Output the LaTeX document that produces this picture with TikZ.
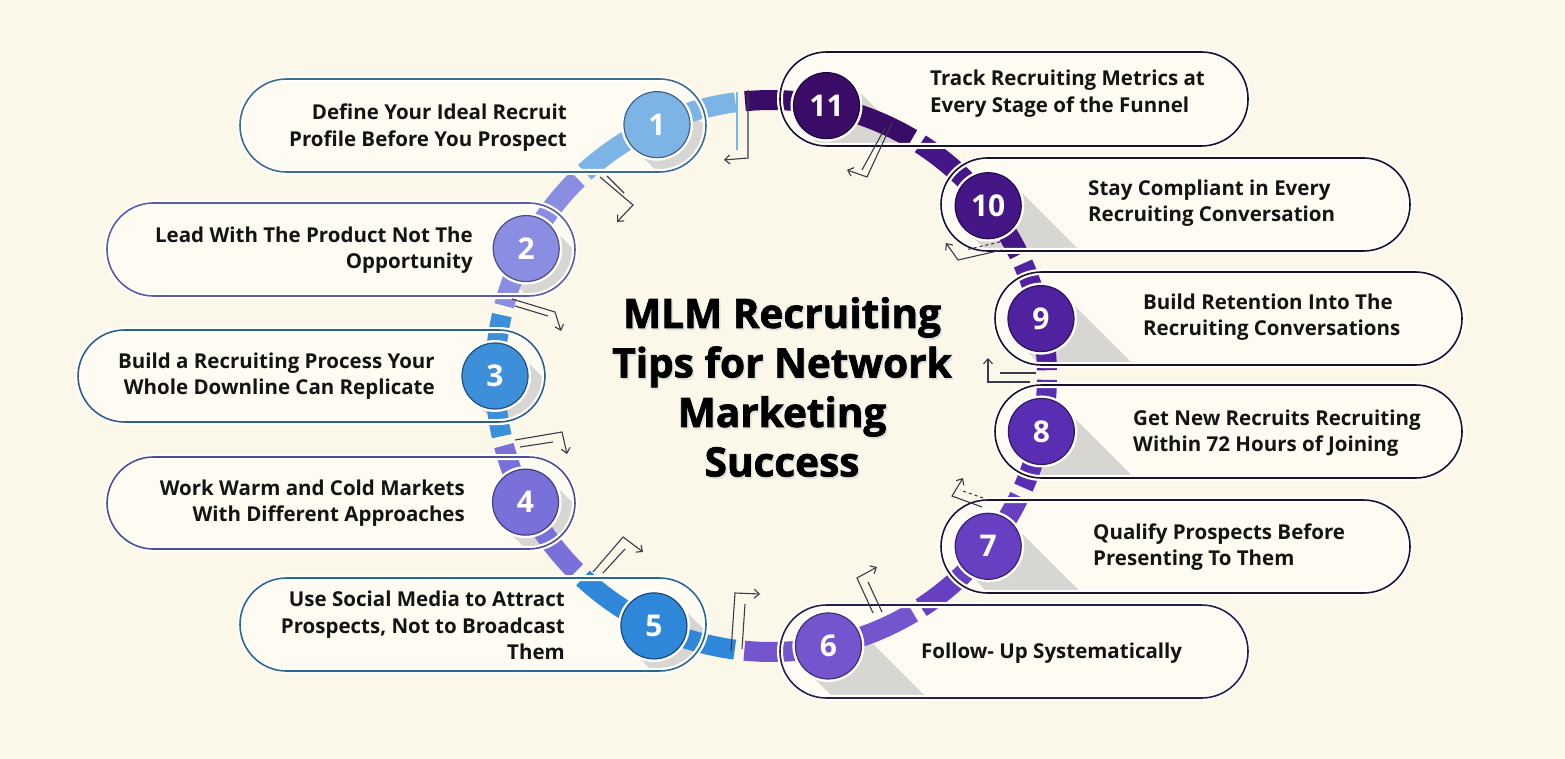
\documentclass[tikz,border=0pt]{standalone}
\usepackage{fontspec}
\setmainfont{Open Sans}
\newfontfamily\titlefont{Open Sans}[FakeBold=1.8]
\usetikzlibrary{calc,arrows.meta}
\definecolor{bgc}{HTML}{FBF8E9}
\definecolor{pillc}{HTML}{FDFBF2}
\definecolor{shc}{HTML}{D8D6D2}
\definecolor{elc}{HTML}{3A3A4C}
\definecolor{txc}{HTML}{141414}
\definecolor{c1}{HTML}{7DB4E6}
\definecolor{c2}{HTML}{8B8DE2}
\definecolor{c3}{HTML}{3D8FD9}
\definecolor{c4}{HTML}{7A70DA}
\definecolor{c5}{HTML}{2E87D8}
\definecolor{c6}{HTML}{7455CE}
\definecolor{c7}{HTML}{673FC1}
\definecolor{c8}{HTML}{5A2EB2}
\definecolor{c9}{HTML}{51229F}
\definecolor{c10}{HTML}{451685}
\definecolor{c11}{HTML}{3A0C67}
\definecolor{o1}{HTML}{3E6C8F}
\definecolor{o2}{HTML}{5C5CA6}
\definecolor{o3}{HTML}{2F5F86}
\definecolor{o4}{HTML}{4E4E96}
\definecolor{o5}{HTML}{2D6790}
\definecolor{o6}{HTML}{2A1F4A}
\definecolor{o7}{HTML}{1E1430}
\definecolor{o8}{HTML}{1C1228}
\definecolor{o9}{HTML}{1C1228}
\definecolor{o10}{HTML}{1C1228}
\definecolor{o11}{HTML}{1C1228}
\tikzset{
  elb/.style={draw=elc, line width=1.1pt},
  tip/.style={-{Straight Barb[length=5pt,width=9pt]}},
  lbl/.style={inner sep=0pt, text=txc, font=\fontsize{20.5}{26.5}\selectfont\bfseries},
  num/.style={circle, minimum size=66pt, inner sep=0pt, text=white, line width=1.2pt, font=\fontsize{30}{30}\selectfont\bfseries},
  ttl/.style={align=center, font=\fontsize{40.5}{49.5}\selectfont\titlefont\bfseries},
}
\newcommand\tiplist{%
1/245.6/227.55/262.6/c1/240/79/706/172/o1,
2/207.5/194.75/225.55/c2/107/203/575/296/o2,
3/180/167.4/192.75/c3/78/330/545/422/o3,
4/152.8/134.95/165.4/c4/107/457/575/549/o4,
5/115.1/97.55/132.95/c5/240/578/706/671/o5,
6/78/59.05/95.55/c6/780/605/1248/698/o6,
7/38.1/25.85/57.05/c7/941/500/1410/593/o7,
8/11.6/0.8/23.85/c8/995/385/1462/478/o8,
9/-12/-24.05/-1.2/c9/995/272/1462/365/o9,
10/-38.1/-57.25/-26.05/c10/941/158/1410/251/o10,
11/-78.4/-95.4/-59.25/c11/780/52/1248/146/o11}
\begin{document}
\begin{tikzpicture}[x=1pt,y=-1pt]
\useasboundingbox (0,0) rectangle (1565,759);
\fill[bgc] (0,0) rectangle (1565,759);
\coordinate (C) at (771,376);
% pill fills
\foreach \i/\a/\s/\e/\col/\xa/\ya/\xb/\yb/\oc in \tiplist {
  \fill[pillc, rounded corners=46.5pt] (\xa,\ya) rectangle (\xb,\yb);
}
% shadows
\foreach \i/\a/\s/\e/\col/\xa/\ya/\xb/\yb/\oc in \tiplist {
  \begin{scope}
    \clip[rounded corners=46.5pt] (\xa,\ya) rectangle (\xb,\yb);
    \coordinate (P) at ($(C)+(\a:276)$);
    \fill[shc] ($(P)+(23.3,-23.3)$) -- ($(P)+(223.3,176.7)$) -- ($(P)+(176.7,223.3)$) -- ($(P)+(-23.3,23.3)$) -- cycle;
  \end{scope}
}
% ring segments
\foreach \i/\a/\s/\e/\col/\xa/\ya/\xb/\yb/\oc in \tiplist {
  \draw[\col, line width=20pt] ($(C)+(\s:276)$) arc[start angle=\s, end angle=\e, radius=276];
}
% pill outlines
\foreach \i/\a/\s/\e/\col/\xa/\ya/\xb/\yb/\oc in \tiplist {
  \draw[white, line width=6pt, rounded corners=46.5pt] (\xa,\ya) rectangle (\xb,\yb);
  \draw[\oc, line width=1.6pt, rounded corners=46.5pt] (\xa,\ya) rectangle (\xb,\yb);
}
% number circles
\foreach \i/\a/\s/\e/\col/\xa/\ya/\xb/\yb/\oc in \tiplist {
  \fill[white] ($(C)+(\a:276)$) circle[radius=36];
  \node[num, fill=\col, draw=\col!55!black] (n\i) at ($(C)+(\a:276)$) {\i};
}
% elbow arrows
\draw[elb, draw=c1] (737,92) -- (737,150);
\draw[elb, tip] (748,90) -- (748,158) -- (724,160);
\draw[elb, tip] (600,177) -- (633,205) -- (617,222);
\draw[elb] (607,176) -- (624,193);
\draw[elb, tip] (512,299) -- (555,312) -- (561,331);
\draw[elb] (515,306) -- (548,316);
\draw[elb, tip] (515,440) -- (562,432) -- (567,454);
\draw[elb] (520,447) -- (553,442);
\draw[elb, tip] (593,572) -- (623,537) -- (643,552);
\draw[elb] (603,573) -- (625,549);
\draw[elb, tip] (731,651) -- (735,593) -- (760,594);
\draw[elb] (742,649) -- (745,604);
\draw[elb, tip] (873,613) -- (857,578) -- (877,567);
\draw[elb] (882,612) -- (868,582);
\draw[elb, tip] (982,507) -- (952,496) -- (963,478);
\draw[elb, dashed] (983,498) -- (960,490);
\draw[elb, tip] (1030,382) -- (988,382) -- (988,358);
\draw[elb] (1000,373) -- (1036,373);
\draw[elb, tip] (1002,250) -- (958,260) -- (946,243);
\draw[elb, dashed] (1000,242) -- (965,250);
\draw[elb, tip] (892,123) -- (867,177) -- (847,170);
\draw[elb] (885,128) -- (862,170);
% labels
\node[lbl, anchor=east, align=right] (t1) at (567,127.5) {Define Your Ideal Recruit\\Profile Before You Prospect};
\node[lbl, anchor=east, align=right] (t2) at (473,250) {Lead With The Product Not The\\Opportunity};
\node[lbl, anchor=east, align=right] (t3) at (435,376) {Build a Recruiting Process Your\\Whole Downline Can Replicate};
\node[lbl, anchor=east, align=right] (t4) at (465,503) {Work Warm and Cold Markets\\With Different Approaches};
\node[lbl, anchor=east, align=right] (t5) at (565,625.5) {Use Social Media to Attract\\Prospects, Not to Broadcast\\Them};
\node[lbl, anchor=west, align=left] (t6) at (921,653) {Follow- Up Systematically};
\node[lbl, anchor=west, align=left] (t7) at (1093,547) {Qualify Prospects Before\\Presenting To Them};
\node[lbl, anchor=west, align=left] (t8) at (1133,433) {Get New Recruits Recruiting\\Within 72 Hours of Joining};
\node[lbl, anchor=west, align=left] (t9) at (1143,317) {Build Retention Into The\\Recruiting Conversations};
\node[lbl, anchor=west, align=left] (t10) at (1088,203) {Stay Compliant in Every\\Recruiting Conversation};
\node[lbl, anchor=west, align=left] (t11) at (930,93.5) {Track Recruiting Metrics at\\Every Stage of the Funnel};
% title
\node[ttl, text=black!12] at (783.5,389) {MLM Recruiting\\Tips for Network\\Marketing\\Success};
\node[ttl, text=black] (title) at (782,387) {MLM Recruiting\\Tips for Network\\Marketing\\Success};
\end{tikzpicture}
\end{document}
